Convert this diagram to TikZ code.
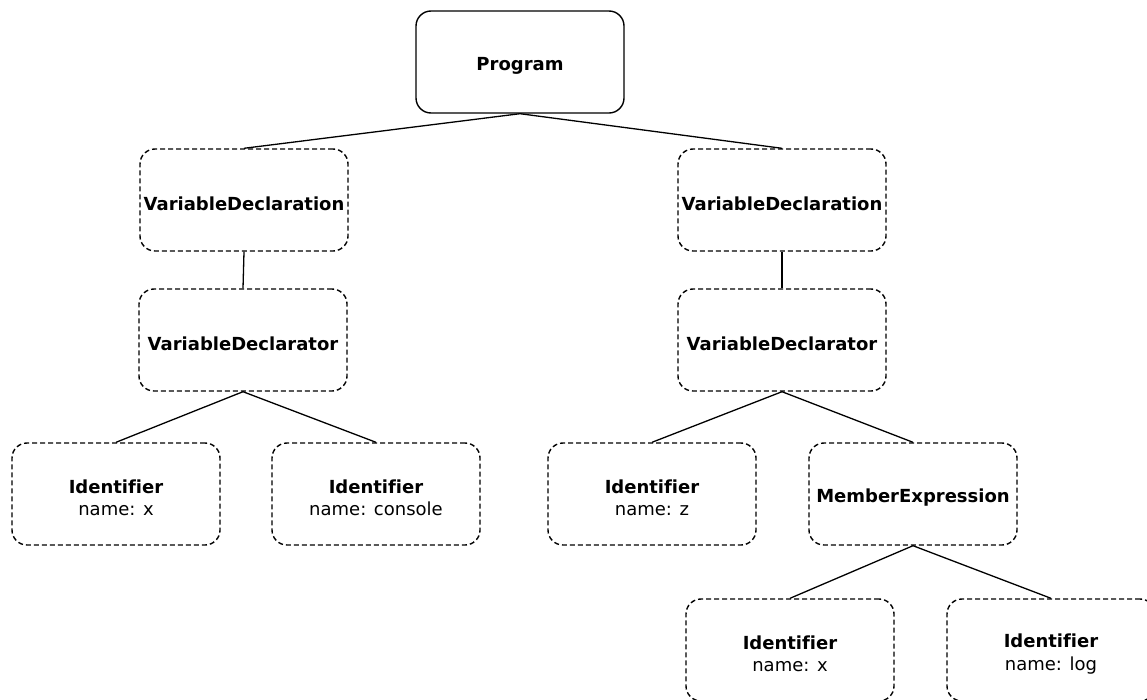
\documentclass[tikz,border=0pt]{standalone}
\usepackage{fontspec}
\setmainfont{DejaVu Sans}[Ligatures=NoCommon]
\begin{document}
\begin{tikzpicture}[x=1pt,y=-1pt,
  box/.style={draw, line width=1.4pt, rounded corners=15pt, minimum width=208pt, minimum height=102pt,
    inner sep=0pt},
  dbox/.style={box, dash pattern=on 5pt off 3pt},
  txt/.style={align=center, inner sep=0pt, font=\fontsize{18}{22.5}\selectfont},
  edge/.style={line width=1.3pt}]
\useasboundingbox (0,0) rectangle (1147,699);
\node[box] (p) at (520,62) {};
\node[dbox] (vd1) at (244,200) {};
\node[dbox] (vd2) at (782,200) {};
\node[dbox] (vr1) at (243,340) {};
\node[dbox] (vr2) at (782,340) {};
\node[dbox] (i1) at (116,494) {};
\node[dbox] (i2) at (376,494) {};
\node[dbox] (i3) at (652,494) {};
\node[dbox] (me) at (913,494) {};
\node[dbox] (i4) at (790,650) {};
\node[dbox] (i5) at (1051,650) {};
\node[txt] (pt) at ([yshift=-4pt]p.center) {\textbf{Program}};
\node[txt] (vd1t) at ([yshift=-4pt]vd1.center) {\textbf{VariableDeclaration}};
\node[txt] (vd2t) at ([yshift=-4pt]vd2.center) {\textbf{VariableDeclaration}};
\node[txt] (vr1t) at ([yshift=-4pt]vr1.center) {\textbf{VariableDeclarator}};
\node[txt] (vr2t) at ([yshift=-4pt]vr2.center) {\textbf{VariableDeclarator}};
\node[txt] (i1t) at ([yshift=-4pt]i1.center) {\textbf{Identifier}\\name: x};
\node[txt] (i2t) at ([yshift=-4pt]i2.center) {\textbf{Identifier}\\name: console};
\node[txt] (i3t) at ([yshift=-4pt]i3.center) {\textbf{Identifier}\\name: z};
\node[txt] (met) at ([yshift=-4pt]me.center) {\textbf{MemberExpression}};
\node[txt] (i4t) at ([yshift=-4pt]i4.center) {\textbf{Identifier}\\name: x};
\node[txt] (i5t) at ([yshift=-4pt]i5.center) {\textbf{Identifier}\\name: log};
\draw[edge] (p.south) -- (vd1.north);
\draw[edge] (p.south) -- (vd2.north);
\draw[edge] (vd1.south) -- (vr1.north);
\draw[edge] (vd2.south) -- (vr2.north);
\draw[edge] (vr1.south) -- (i1.north);
\draw[edge] (vr1.south) -- (i2.north);
\draw[edge] (vr2.south) -- (i3.north);
\draw[edge] (vr2.south) -- (me.north);
\draw[edge] (me.south) -- (i4.north);
\draw[edge] (me.south) -- (i5.north);
\end{tikzpicture}
\end{document}
